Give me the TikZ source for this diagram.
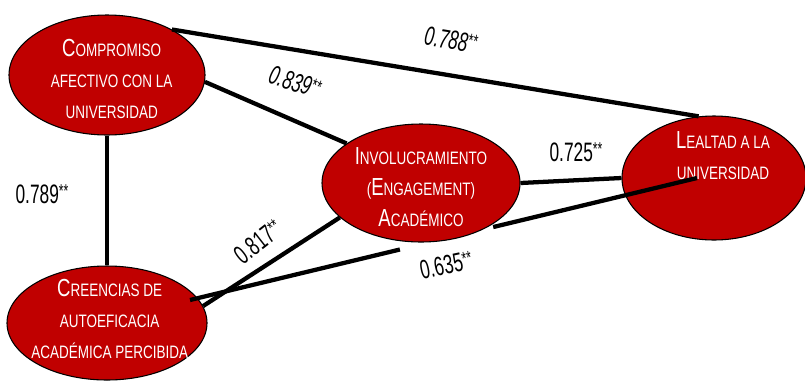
\documentclass[tikz,border=0pt]{standalone}
\usepackage{fontspec}
\setmainfont{Liberation Sans}
\newfontfamily\rotulo[FakeStretch=0.75]{Liberation Sans}
\newfontfamily\cifra[FakeStretch=0.65]{Liberation Sans}
\usepackage{xcolor}
\usepackage{tikz}
\usetikzlibrary{shapes.geometric, positioning}
\definecolor{rojo}{HTML}{C00000}
\newcommand{\versal}[2]{{\fontsize{18.5}{23}\selectfont #1}{\fontsize{13.5}{23}\selectfont #2}}
\newcommand{\coef}[1]{#1\raisebox{4pt}{\fontsize{14}{14}\selectfont **}}
\tikzset{
  constructo/.style={ellipse, draw=black, line width=0.8pt, fill=rojo, inner sep=0pt},
  texto/.style={text=white, align=center, font=\rotulo\fontsize{13.5}{23}\selectfont},
  enlace/.style={line width=3.2pt, black},
  coefnodo/.style={font=\cifra\fontsize{20}{24}\selectfont, inner sep=1pt}
}

\begin{document}
\begin{tikzpicture}[x=0.75pt, y=-0.75pt]
			\useasboundingbox (0,0) rectangle (805,383);
			
			%% Constructos
			\node [constructo, minimum width=147pt, minimum height=90pt,
			  label={[texto, xshift=3.5pt, yshift=-3pt]center:{\versal{C}{OMPROMISO}\\AFECTIVO CON LA\\UNIVERSIDAD}}]
			  (compromiso) at (107,75) {};
			\node [constructo, minimum width=148.5pt, minimum height=88.5pt,
			  label={[texto, yshift=-3pt]center:{\versal{I}{NVOLUCRAMIENTO}\\(\versal{E}{NGAGEMENT})\\\versal{A}{CADÉMICO}}}]
			  (involucramiento) at (421,183) {};
			\node [constructo, minimum width=138pt, minimum height=93pt,
			  label={[texto, xshift=6.75pt, yshift=17pt]center:{\versal{L}{EALTAD A LA}\\UNIVERSIDAD}}]
			  (lealtad) at (714,178) {};
			\node [constructo, minimum width=150pt, minimum height=85.5pt,
			  label={[texto, xshift=2pt, yshift=3pt]center:{\versal{C}{REENCIAS DE}\\AUTOEFICACIA\\ACADÉMICA PERCIBIDA}}]
			  (creencias) at (107,323) {};
			
			%% Relaciones
			\draw [enlace] (compromiso.35) -- (lealtad.104);
			\draw [enlace] (compromiso.-4) -- (involucramiento.152);
			\draw [enlace] (compromiso.south) -- (creencias.north);
			\draw [enlace] (involucramiento.east) -- (lealtad.west);
			\draw [enlace] (creencias.10) -- (involucramiento.-157);
			
			%% Creencias - Lealtad (cortada bajo el involucramiento)
			\coordinate (cl1) at ([shift={(83,-23)}]creencias.center);
			\coordinate (cl2) at ([shift={(-17,0)}]lealtad.center);
			\path (cl1) -- (cl2) coordinate [pos=0.414] (corteA) coordinate [pos=0.598] (corteB);
			\draw [enlace] (cl1) -- (corteA);
			\draw [enlace] (corteB) -- (cl2);
			
			%% Coeficientes
			\node [coefnodo, rotate=-9] (c788) at (451,40) {\itshape\coef{0.788}};
			\node [coefnodo, rotate=-18] (c839) at (295,82) {\itshape\coef{0.839}};
			\node [coefnodo] (c725) at (576,152) {\coef{0.725}};
			\node [coefnodo] (c789) at (42,194) {\coef{0.789}};
			\node [coefnodo, rotate=38] (c817) at (258,242) {\coef{0.817}};
			\node [coefnodo, rotate=12] (c635) at (446,265) {\coef{0.635}};
		\end{tikzpicture}
\end{document}
